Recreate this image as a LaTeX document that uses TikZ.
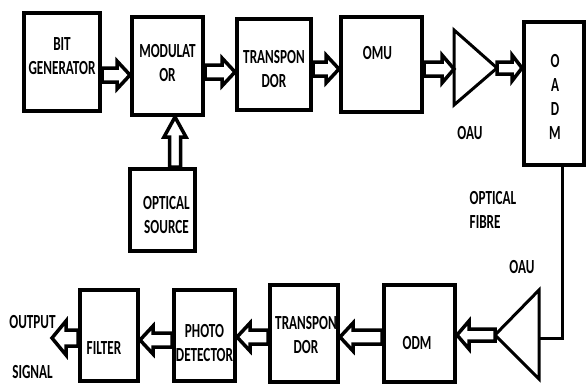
\documentclass[tikz,border=0pt]{standalone}
\usepackage{fontspec}
\setmainfont{Carlito}[FakeStretch=0.66]
\usetikzlibrary{calc, positioning}
\tikzset{
  box/.style={rectangle, draw=black, line width=4pt, inner sep=0pt},
  txt/.style={font=\fontsize{20}{24}\selectfont\bfseries, align=center, inner sep=0pt},
  fibre/.style={draw=black, line width=3pt},
  amp/.style={draw=black, line width=3pt, line join=miter},
  barrow/.style={draw=black, fill=white, line width=3.5pt, line join=miter}
}
% hollow block arrow: start, end, shaft half width, head half width, head length
\newcommand{\blockarrow}[5]{%
  \coordinate (ba-head) at ($(#2)!#5!(#1)$);
  \draw[barrow] ($(#1)!#3!90:(#2)$) -- ($(ba-head)!#3!90:(#2)$)
    -- ($(ba-head)!#4!90:(#2)$) -- (#2) -- ($(ba-head)!#4!-90:(#2)$)
    -- ($(ba-head)!#3!-90:(#2)$) -- ($(#1)!#3!-90:(#2)$) -- cycle;
}

\begin{document}
\begin{tikzpicture}[x=1pt, y=-1pt]
  \useasboundingbox (0,0) rectangle (588,386);

  % Transmitter row
  \node[box, minimum width=76pt, minimum height=98pt] (bitgen) at (62,62) {};
  \node[txt] (bitgen-txt) at ([yshift=5.5pt]bitgen.center) {BIT\\GENERATOR};
  \node[box, minimum width=71pt, minimum height=98pt] (modulator) at (167.5,66) {};
  \node[txt] (modulator-txt) at ([yshift=2.5pt]modulator.center) {MODULAT\\OR};
  \node[box, minimum width=74pt, minimum height=91pt] (transp1) at (274,64.5) {};
  \node[txt] (transp1-txt) at ([yshift=-4.5pt]transp1.center) {TRANSPON\\DOR};
  \node[box, minimum width=81pt, minimum height=95pt] (omu) at (381.5,64.5) {};
  \node[txt] (omu-txt) at ([xshift=-4pt, yshift=11.5pt]omu.center) {OMU};
  \node[box, minimum width=60pt, minimum height=143pt] (oadm) at (554,93.5) {};
  \node[txt] (oadm-txt) at ([xshift=1pt, yshift=-3pt]oadm.center) {O\\A\\D\\M};
  \node[box, minimum width=65pt, minimum height=82pt] (optsrc) at (162.5,210) {};
  \node[txt] (optsrc-txt) at ([xshift=4pt, yshift=-5pt]optsrc.center) {OPTICAL\\SOURCE};

  % Receiver row
  \node[box, minimum width=58pt, minimum height=91pt] (filter) at (109,335.5) {};
  \node[txt] (filter-txt) at ([xshift=-5pt, yshift=-12.5pt]filter.center) {FILTER};
  \node[box, minimum width=61pt, minimum height=91pt] (photo) at (204.5,335.5) {};
  \node[txt] (photo-txt) at ([yshift=-8pt]photo.center) {PHOTO\\DETECTOR};
  \node[box, minimum width=68pt, minimum height=97pt] (transp2) at (304,333.5) {};
  \node[txt] (transp2-txt) at ([xshift=2pt, yshift=-1.5pt]transp2.center) {TRANSPON\\DOR};
  \node[box, minimum width=71pt, minimum height=97pt] (odm) at (419.5,333.5) {};
  \node[txt] (odm-txt) at ([xshift=-2.5pt, yshift=-9.5pt]odm.center) {ODM};

  % Amplifiers
  \draw[amp] (454,30) -- (497,68) -- (454,105) -- cycle;
  \coordinate (oau1-in) at (454,69);
  \coordinate (oau1-out) at (497,68);
  \draw[amp] (539,290) -- (495,335) -- (539,379) -- cycle;
  \coordinate (oau2-in) at (539,338);
  \coordinate (oau2-out) at (495,335);

  % Labels
  \node[txt] (oau1-lbl) at (470,133) {OAU};
  \node[txt, align=left] (fibre-lbl) at (493,210) {OPTICAL\\FIBRE};
  \node[txt] (oau2-lbl) at (522,267) {OAU};
  \node[txt] (out-lbl) at (32.5,322) {OUTPUT};
  \node[txt] (sig-lbl) at (32.5,372) {SIGNAL};

  % Fibre link
  \coordinate (fib-top) at ([xshift=8pt]oadm.south);
  \coordinate (fib-turn) at (fib-top |- oau2-in);
  \draw[fibre] (fib-top) -- (fib-turn) -- (oau2-in);

  % Arrows, transmitter
  \coordinate (bg-out) at ([yshift=-13pt]bitgen.east);
  \coordinate (mod-in) at (modulator.west |- bg-out);
  \blockarrow{bg-out}{mod-in}{7pt}{14pt}{13pt}
  \coordinate (mod-out) at ([yshift=-6pt]modulator.east);
  \coordinate (tr1-in) at (transp1.west |- mod-out);
  \blockarrow{mod-out}{tr1-in}{7pt}{14pt}{13pt}
  \coordinate (tr1-out) at ([yshift=-4.5pt]transp1.east);
  \coordinate (omu-in) at (omu.west |- tr1-out);
  \blockarrow{tr1-out}{omu-in}{7pt}{14pt}{13pt}
  \coordinate (omu-out) at ([yshift=-4.5pt]omu.east);
  \blockarrow{omu-out}{oau1-in}{7pt}{14pt}{12pt}
  \coordinate (oadm-in) at (oadm.west |- oau1-out);
  \blockarrow{oau1-out}{oadm-in}{6pt}{13pt}{10pt}
  \coordinate (src-out) at ([xshift=12.5pt]optsrc.north);
  \coordinate (mod-up) at (src-out |- modulator.south);
  \blockarrow{src-out}{mod-up}{5.5pt}{11pt}{20pt}

  % Arrows, receiver
  \coordinate (odm-in) at (odm.east |- oau2-out);
  \blockarrow{oau2-out}{odm-in}{6pt}{14pt}{12pt}
  \coordinate (odm-out) at ([yshift=-3.5pt]odm.west);
  \coordinate (tr2-in) at (transp2.east |- odm-out);
  \blockarrow{odm-out}{tr2-in}{7pt}{14pt}{13pt}
  \coordinate (tr2-out) at ([yshift=-3.5pt]transp2.west);
  \coordinate (ph-in) at (photo.east |- tr2-out);
  \blockarrow{tr2-out}{ph-in}{7pt}{14pt}{13pt}
  \coordinate (ph-out) at ([yshift=-4.5pt]photo.west);
  \coordinate (fil-in) at (filter.east |- ph-out);
  \blockarrow{ph-out}{fil-in}{7pt}{14pt}{13pt}
  \coordinate (fil-out) at ([yshift=-2.5pt]filter.west);
  \coordinate (sig-end) at (52,338);
  \blockarrow{fil-out}{sig-end}{8pt}{17pt}{14pt}
\end{tikzpicture}
\end{document}
